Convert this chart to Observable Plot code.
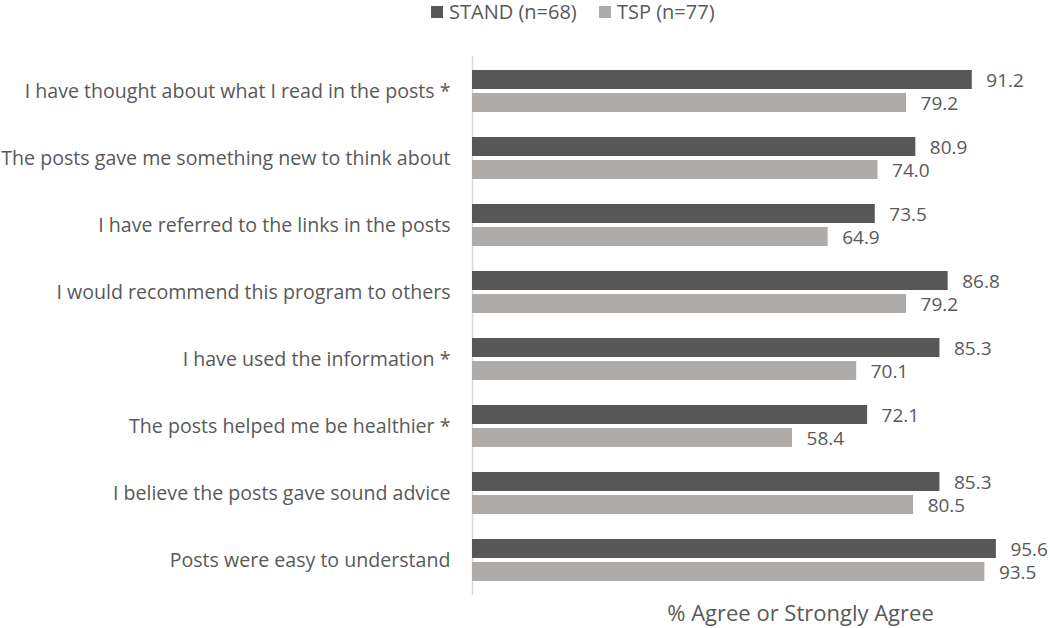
<!DOCTYPE html>
<html>
<head>
<meta charset="utf-8">
<script src="https://cdn.jsdelivr.net/npm/d3@7"></script>
<script src="https://cdn.jsdelivr.net/npm/@observablehq/plot@0.6"></script>
<style>
  html, body { margin: 0; padding: 0; background: #fff; }
  body { width: 1050px; height: 628px; overflow: hidden; font-family: "Open Sans", sans-serif; }
  #legend { height: 28px; position: relative; color: #595959; font-size: 20px; }
  #legend .item { position: absolute; top: -2px; display: flex; align-items: center; white-space: nowrap; }
  #legend .sw { width: 12px; height: 12px; margin-right: 6px; }
</style>
</head>
<body>
<div id="legend"></div>
<div id="chart"></div>
<script>
const categories = [
  "I have thought about what I read in the posts *",
  "The posts gave me something new to think about",
  "I have referred to the links in the posts",
  "I would recommend this program to others",
  "I have used the information *",
  "The posts helped me be healthier *",
  "I believe the posts gave sound advice",
  "Posts were easy to understand"
];
const seriesNames = ["STAND (n=68)", "TSP (n=77)"];
const standValues = [91.2, 80.9, 73.5, 86.8, 85.3, 72.1, 85.3, 95.6];
const tspValues   = [79.2, 74.0, 64.9, 79.2, 70.1, 58.4, 80.5, 93.5];
const colors = ["#575757", "#aeaba9"];
const xLabel = "% Agree or Strongly Agree";

const stand = categories.map((c, i) => ({category: c, value: standValues[i]}));
const tsp = categories.map((c, i) => ({category: c, value: tspValues[i]}));

// legend
const legend = document.getElementById("legend");
const legendX = [431, 599];
seriesNames.forEach((s, i) => {
  const it = document.createElement("div");
  it.className = "item";
  it.style.left = legendX[i] + "px";
  it.innerHTML = `<span class="sw" style="background:${colors[i]}"></span><span>${s}</span>`;
  legend.appendChild(it);
});

const fmt = d3.format(".1f");
const chart = Plot.plot({
  width: 1050,
  height: 600,
  marginTop: 28,
  marginBottom: 33,
  marginLeft: 472,
  marginRight: 30,
  style: {fontFamily: "'Open Sans', sans-serif", fontSize: "19.6px", color: "#595959", background: "#fff"},
  x: {domain: [0, 100], axis: null},
  y: {domain: categories, paddingInner: 0.375, paddingOuter: 0.2, label: null},
  marks: [
    Plot.axisY({tickSize: 0, tickPadding: 22, label: null, fill: "#595959", fontSize: 19.6}),
    Plot.ruleX([0], {stroke: "#d9d9d9", strokeWidth: 1.5}),
    Plot.barX(stand, {x: "value", y: "category", fill: colors[0], insetBottom: 23}),
    Plot.barX(tsp, {x: "value", y: "category", fill: colors[1], insetTop: 23}),
    Plot.text(stand, {x: "value", y: "category", text: d => fmt(d.value), dx: 14, dy: -11, textAnchor: "start", fill: "#595959", fontSize: 19}),
    Plot.text(tsp, {x: "value", y: "category", text: d => fmt(d.value), dx: 14, dy: 12, textAnchor: "start", fill: "#595959", fontSize: 19}),
    Plot.text([xLabel], {text: d => d, frameAnchor: "bottom", dx: 54, dy: 25, textAnchor: "middle", fill: "#595959", fontSize: 22})
  ]
});
document.getElementById("chart").appendChild(chart);
</script>
</body>
</html>
